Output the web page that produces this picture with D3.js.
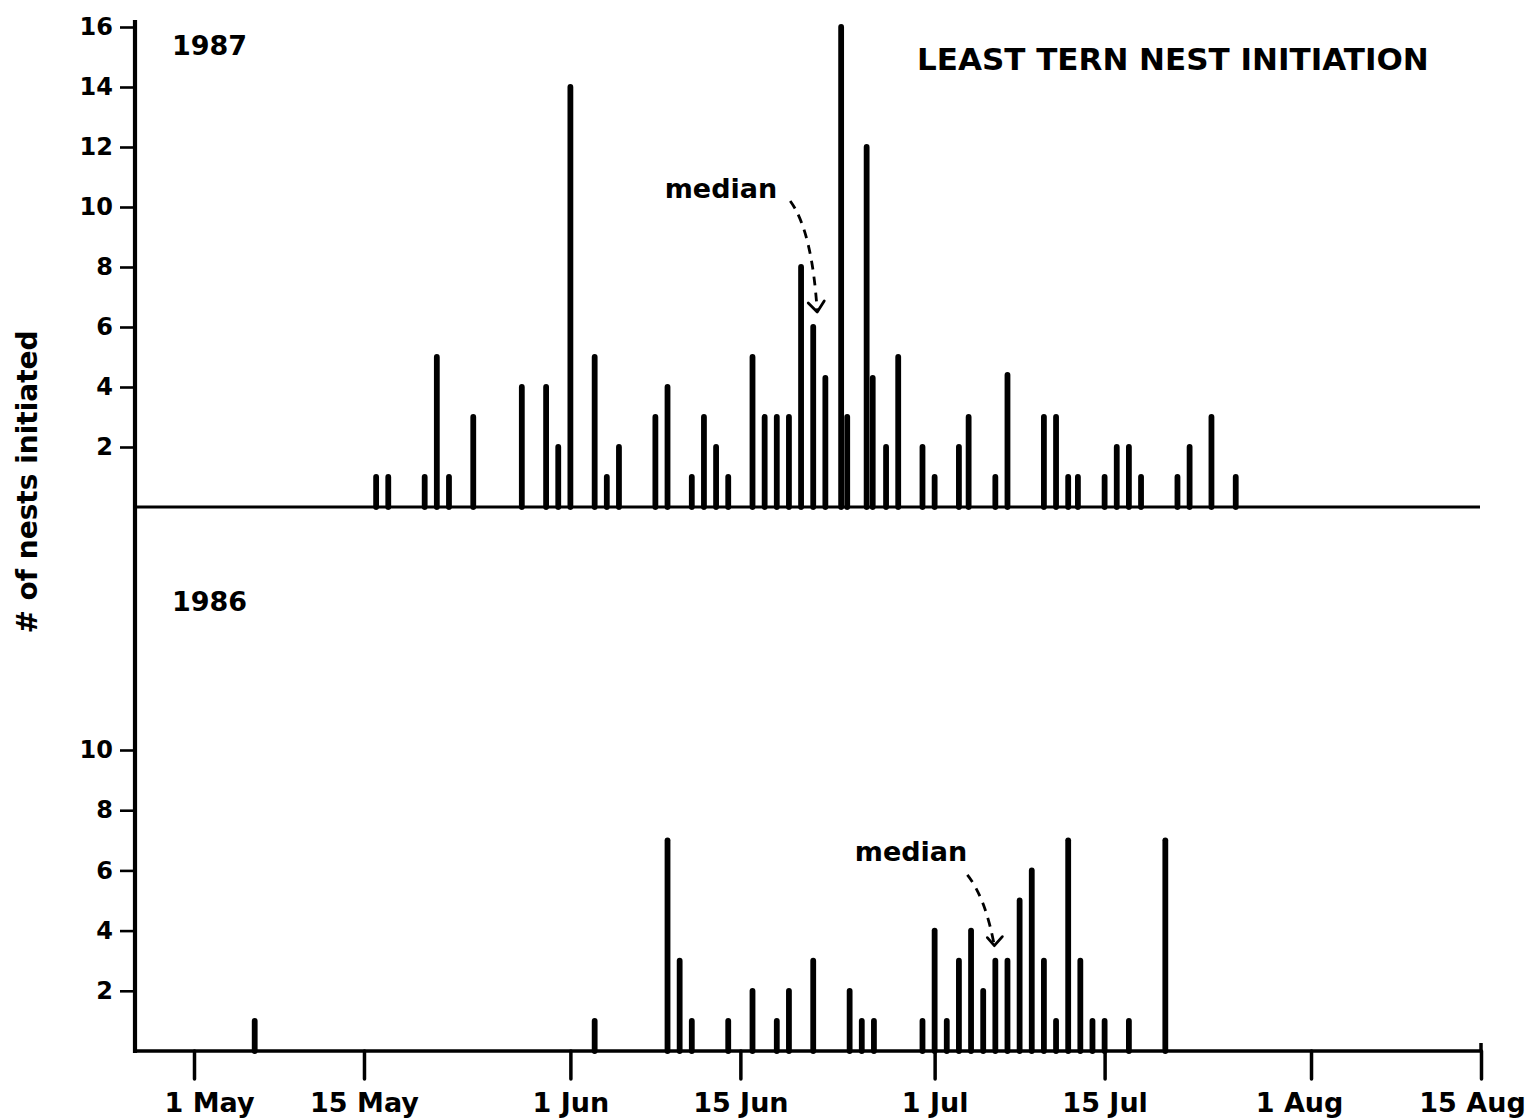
<!DOCTYPE html>
<html>
<head>
<meta charset="utf-8">
<script src="https://cdn.jsdelivr.net/npm/d3@7"></script>
<style>
  html, body { margin: 0; padding: 0; background: #fff; }
  svg { display: block; }
  text { font-family: "DejaVu Sans", "Liberation Sans", sans-serif; font-weight: bold; fill: #000; }
</style>
</head>
<body>
<svg id="chart" width="1533" height="1118"></svg>
<script>
// ---- data (days after 1 May) ----
const days1987 = [15,16,19,20,21,23,27,29,30,31,33,34,35,38,39,41,42,43,44,46,47,48,49,50,51,52,53.3,53.8,55.4,55.9,57,58,60,61,63,63.8,66,67,70,71,72,72.8,75,76,77,78,81,82,83.8,85.8];
const vals1987 = [1,1,1,5,1,3,4,4,2,14,5,1,2,3,4,1,3,2,1,5,3,3,3,8,6,4.3,16,3,12,4.3,2,5,2,1,2,3,1,4.4,3,3,1,1,1,2,2,1,1,2,3,1];
const days1986 = [5,33,39,40,41,44,46,48,49,51,54,55,56,60,61,62,63,64,65,66,67,68,69,70,71,72,73,74,75,77,80];
const vals1986 = [1,1,7,3,1,1,2,1,2,3,2,1,1,1,4,1,3,4,2,3,3,5,6,3,1,7,3,1,1,1,7];
const xTickDays = [0,14,31,45,61,75,92,106];
const xTickLabels = ["1 May","15 May","1 Jun","15 Jun","1 Jul","15 Jul","1 Aug","15 Aug"];
const yTicksTop = [2,4,6,8,10,12,14,16];
const yTicksBottom = [2,4,6,8,10];
const median1987Day = 51, median1986Day = 66;

const svg = d3.select("#chart");
const axisX = 135, xEnd = 1480;

const x = d3.scaleLinear().domain([0,106]).range([194,1481]);
const yTop = d3.scaleLinear().domain([0,16]).range([507,27]);
const yBot = d3.scaleLinear().domain([0,10]).range([1051,750]);

// vertical axis line
svg.append("line").attr("x1",axisX).attr("x2",axisX).attr("y1",20).attr("y2",yBot(0)+2)
  .attr("stroke","#000").attr("stroke-width",4.2);

// top baseline
svg.append("line").attr("x1",axisX).attr("x2",xEnd).attr("y1",yTop(0)).attr("y2",yTop(0))
  .attr("stroke","#000").attr("stroke-width",3);
// bottom axis line
svg.append("line").attr("x1",axisX).attr("x2",xEnd).attr("y1",yBot(0)).attr("y2",yBot(0))
  .attr("stroke","#000").attr("stroke-width",3.4);

function styleAxis(g, fs) {
  g.select(".domain").remove();
  g.selectAll(".tick line").attr("stroke","#000").attr("stroke-width",2.6);
  g.selectAll(".tick text").attr("font-size",fs).attr("font-family","DejaVu Sans").attr("font-weight","bold").attr("fill","#000");
}

// y axes
const gyTop = svg.append("g").attr("transform",`translate(${axisX},0)`)
  .call(d3.axisLeft(yTop).tickValues(yTicksTop).tickSize(15).tickPadding(7).tickFormat(d3.format("d")));
styleAxis(gyTop, 24);
const gyBot = svg.append("g").attr("transform",`translate(${axisX},0)`)
  .call(d3.axisLeft(yBot).tickValues(yTicksBottom).tickSize(15).tickPadding(7).tickFormat(d3.format("d")));
styleAxis(gyBot, 24);

// x axis
const gx = svg.append("g").attr("transform",`translate(0,${yBot(0)})`)
  .call(d3.axisBottom(x).tickValues(xTickDays).tickSize(28).tickPadding(14)
    .tickFormat((d,i) => xTickLabels[i]));
styleAxis(gx, 27);
gx.selectAll(".tick line").attr("stroke-width",3.5).attr("stroke-linecap","round");
// small label nudges as in the hand-lettered original
const labelNudge = {0: 15, 92: -12, 106: -9};
gx.selectAll(".tick text").attr("dx", d => labelNudge[d] || 0);
// 15 Aug tick also rises above the axis
svg.append("line").attr("x1",x(106)).attr("x2",x(106)).attr("y1",yBot(0)-8).attr("y2",yBot(0))
  .attr("stroke","#000").attr("stroke-width",3.5);

// bars
const d87 = days1987.map((d,i)=>({d, v: vals1987[i]}));
const d86 = days1986.map((d,i)=>({d, v: vals1986[i]}));
svg.append("g").selectAll("line").data(d87).join("line")
  .attr("x1",p=>x(p.d)).attr("x2",p=>x(p.d))
  .attr("y1",yTop(0)).attr("y2",p=>yTop(p.v))
  .attr("stroke","#000").attr("stroke-width",5.8).attr("stroke-linecap","round");
svg.append("g").selectAll("line").data(d86).join("line")
  .attr("x1",p=>x(p.d)).attr("x2",p=>x(p.d))
  .attr("y1",yBot(0)).attr("y2",p=>yBot(p.v))
  .attr("stroke","#000").attr("stroke-width",5.8).attr("stroke-linecap","round");

// labels
svg.append("text").attr("x",172).attr("y",55).attr("font-size",27).text("1987");
svg.append("text").attr("x",172).attr("y",611).attr("font-size",27).text("1986");
svg.append("text").attr("x",917).attr("y",70).attr("font-size",31).text("LEAST TERN NEST INITIATION");
svg.append("text").attr("transform","translate(37,482) rotate(-90)").attr("text-anchor","middle")
  .attr("font-size",28).text("# of nests initiated");

// median annotations
function medianArrow(x0,y0,cx,cy,x1,y1,arms) {
  svg.append("path").attr("d",`M${x0},${y0} Q${cx},${cy} ${x1},${y1}`)
    .attr("fill","none").attr("stroke","#000").attr("stroke-width",2.8).attr("stroke-dasharray","9,7");
  svg.append("path").attr("d",`M${arms[0][0]},${arms[0][1]} L${x1},${y1} L${arms[1][0]},${arms[1][1]}`)
    .attr("fill","none").attr("stroke","#000").attr("stroke-width",2.8).attr("stroke-linejoin","round").attr("stroke-linecap","round");
}
{
  const tx = x(median1987Day)+4, ty = yTop(6.5);
  svg.append("text").attr("x",tx-40).attr("y",yTop(10.3)).attr("text-anchor","end").attr("font-size",27).text("median");
  medianArrow(tx-27, yTop(10.2), tx-5, yTop(9.2), tx, ty, [[tx-9,ty-9],[tx+7,ty-11]]);
}
{
  const tx = x(median1986Day)-1, ty = yBot(3.5);
  svg.append("text").attr("x",tx-27).attr("y",yBot(6.3)).attr("text-anchor","end").attr("font-size",27).text("median");
  medianArrow(tx-27, yBot(5.85), tx-9, yBot(5.1), tx, ty, [[tx-7,ty-8],[tx+8,ty-9]]);
}
</script>
</body>
</html>
